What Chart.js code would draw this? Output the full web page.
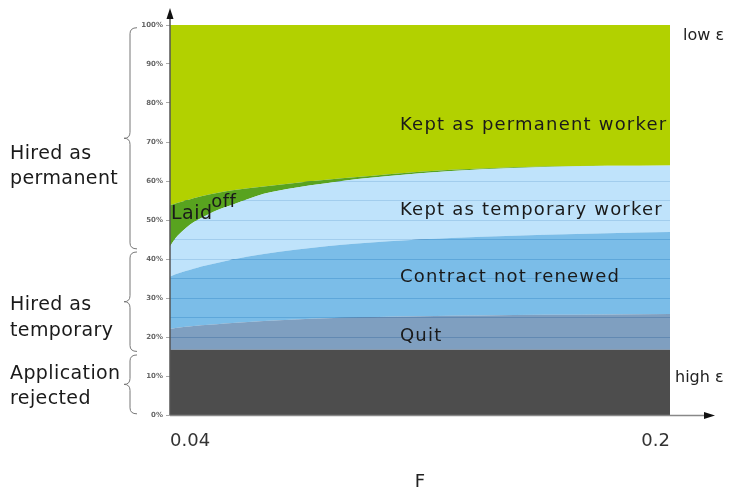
<!DOCTYPE html>
<html>
<head>
<meta charset="utf-8">
<script src="https://cdn.jsdelivr.net/npm/chart.js@4/dist/chart.umd.min.js"></script>
<style>
html,body{margin:0;padding:0;background:#fff;}
canvas{display:block;}
</style>
</head>
<body>
<canvas id="c" width="731" height="494"></canvas>
<script>
// ---- data (shares in %, stacked bottom to top) ----
const fValues      = [0.04, 0.041, 0.0425, 0.045, 0.0475, 0.05, 0.055, 0.06, 0.07, 0.08, 0.09, 0.10, 0.12, 0.14, 0.16, 0.18, 0.20];
const rejected     = [16.7, 16.7, 16.7, 16.7, 16.7, 16.7, 16.7, 16.7, 16.7, 16.7, 16.7, 16.7, 16.7, 16.7, 16.7, 16.7, 16.7];
const quit         = [5.4, 5.5, 5.65, 5.9, 6.1, 6.3, 6.6, 6.9, 7.4, 7.8, 8.1, 8.3, 8.6, 8.8, 9.0, 9.1, 9.2];
const notRenewed   = [13.4, 13.65, 13.95, 14.3, 14.7, 15.1, 15.7, 16.3, 17.2, 17.9, 18.5, 19.0, 19.7, 20.2, 20.5, 20.8, 21.0];
const keptTemp     = [7.7, 8.65, 9.7, 11.0, 11.9, 12.4, 13.5, 14.0, 15.4, 15.9, 16.1, 16.5, 17.0, 17.3, 17.4, 17.3, 17.1];
const laidOff      = [10.6, 9.55, 8.4, 7.1, 6.2, 5.6, 4.4, 3.7, 1.9, 1.2, 0.9, 0.5, 0.4, 0.2, 0.1, 0.0, 0.0];
const keptPerm     = [46.2, 45.95, 45.6, 45.0, 44.4, 43.9, 43.1, 42.4, 41.4, 40.5, 39.7, 39.0, 37.6, 36.8, 36.3, 36.1, 36.0];
const seriesNames  = ['Application rejected', 'Quit', 'Contract not renewed', 'Kept as temporary worker', 'Laid off', 'Kept as permanent worker'];
const xTickValues  = [0.04, 0.2];
const yTickStep    = 10;
const yGridStep    = 5;

const seriesData = [rejected, quit, notRenewed, keptTemp, laidOff, keptPerm];
const seriesColors = [
  'rgb(77,77,77)',
  'rgba(104,142,181,0.85)',
  'rgba(100,177,228,0.85)',
  'rgba(180,222,250,0.85)',
  'rgb(88,163,31)',
  'rgb(178,209,0)'
];

const datasets = seriesData.map((arr, i) => ({
  label: seriesNames[i],
  data: arr.map((v, j) => ({x: fValues[j], y: v})),
  backgroundColor: seriesColors[i],
  borderWidth: 0,
  pointRadius: 0,
  fill: i === 0 ? 'origin' : '-1',
  cubicInterpolationMode: 'monotone',
  yAxisID: 'y'
}));

function drawBrace(ctx, xEnd, xBody, xTip, yTop, yBot) {
  const yMid = (yTop + yBot) / 2;
  const r = 6;
  ctx.beginPath();
  ctx.moveTo(xEnd, yTop);
  ctx.quadraticCurveTo(xBody, yTop, xBody, yTop + r);
  ctx.lineTo(xBody, yMid - r);
  ctx.quadraticCurveTo(xBody, yMid, xTip, yMid);
  ctx.quadraticCurveTo(xBody, yMid, xBody, yMid + r);
  ctx.lineTo(xBody, yBot - r);
  ctx.quadraticCurveTo(xBody, yBot, xEnd, yBot);
  ctx.stroke();
}

const annot = {
  id: 'annot',
  afterDatasetsDraw(chart) {
    const {ctx, chartArea: ca, scales} = chart;
    const x = scales.x, y = scales.y;
    ctx.save();
    // axes with arrows
    ctx.lineWidth = 1.5;
    ctx.strokeStyle = '#555';
    ctx.fillStyle = '#111';
    ctx.beginPath(); ctx.moveTo(ca.left, ca.bottom); ctx.lineTo(ca.left, ca.top - 10); ctx.stroke();
    ctx.beginPath(); ctx.moveTo(ca.left, ca.top - 17); ctx.lineTo(ca.left - 3.5, ca.top - 6); ctx.lineTo(ca.left + 3.5, ca.top - 6); ctx.closePath(); ctx.fill();
    ctx.strokeStyle = '#888';
    ctx.beginPath(); ctx.moveTo(ca.left, ca.bottom + 0.5); ctx.lineTo(ca.right + 36, ca.bottom + 0.5); ctx.stroke();
    ctx.beginPath(); ctx.moveTo(ca.right + 45, ca.bottom + 0.5); ctx.lineTo(ca.right + 34, ca.bottom - 3); ctx.lineTo(ca.right + 34, ca.bottom + 4); ctx.closePath(); ctx.fill();

    // in-chart labels
    ctx.fillStyle = '#1a1a1a';
    ctx.textBaseline = 'middle';
    ctx.textAlign = 'left';
    ctx.font = '18px "DejaVu Sans"';
    ctx.letterSpacing = '1.2px';
    const lx = x.getPixelForValue(0.1136);
    ctx.fillText('Kept as permanent worker', lx, y.getPixelForValue(74.4));
    ctx.fillText('Kept as temporary worker', lx, y.getPixelForValue(52.6));
    ctx.fillText('Contract not renewed', lx, y.getPixelForValue(35.4));
    ctx.fillText('Quit', lx, y.getPixelForValue(20.3));
    ctx.font = '19px "DejaVu Sans"';
    ctx.letterSpacing = '0.5px';
    ctx.fillText('Laid', x.getPixelForValue(0.0403), y.getPixelForValue(51.6));
    ctx.font = '18px "DejaVu Sans"';
    ctx.fillText('off', x.getPixelForValue(0.0532), y.getPixelForValue(54.6));

    // right labels
    ctx.font = '16px "DejaVu Sans"';
    ctx.letterSpacing = '0px';
    ctx.fillStyle = '#222';
    ctx.fillText('low ε', ca.right + 13, y.getPixelForValue(97.2));
    ctx.fillText('high ε', ca.right + 5, y.getPixelForValue(9.5));

    // left group labels
    ctx.font = '19px "DejaVu Sans"';
    ctx.letterSpacing = '0.4px';
    ctx.fillStyle = '#1a1a1a';
    ctx.fillText('Hired as', 10, y.getPixelForValue(67.0));
    ctx.fillText('permanent', 10, y.getPixelForValue(60.4));
    ctx.fillText('Hired as', 10, y.getPixelForValue(28.2));
    ctx.fillText('temporary', 10, y.getPixelForValue(21.6));
    ctx.fillText('Application', 10, y.getPixelForValue(10.4));
    ctx.fillText('rejected', 10, y.getPixelForValue(4.2));

    // braces
    ctx.strokeStyle = '#777';
    ctx.lineWidth = 1;
    drawBrace(ctx, 137, 130, 124, y.getPixelForValue(99.3), y.getPixelForValue(42.6));
    drawBrace(ctx, 137, 130, 124, y.getPixelForValue(41.8), y.getPixelForValue(16.3));
    drawBrace(ctx, 137, 130, 124, y.getPixelForValue(15.4), y.getPixelForValue(0.3));
    ctx.restore();
  }
};

new Chart(document.getElementById('c'), {
  type: 'line',
  data: { datasets },
  options: {
    responsive: false,
    animation: false,
    layout: { padding: { left: 0, right: 61, top: 25, bottom: 0 } },
    plugins: { legend: { display: false }, tooltip: { enabled: false } },
    elements: { line: { tension: 0.4 } },
    scales: {
      x: {
        type: 'linear',
        min: 0.04,
        max: 0.2,
        afterBuildTicks: s => { s.ticks = xTickValues.map(v => ({ value: v })); },
        afterFit: s => { s.height = 79; },
        grid: { display: false, drawTicks: false },
        border: { display: false },
        ticks: {
          align: 'inner',
          padding: 16,
          color: '#333',
          font: { family: 'DejaVu Sans', size: 18 },
          callback: v => String(v)
        },
        title: {
          display: true,
          text: 'F',
          color: '#222',
          font: { family: 'DejaVu Sans', size: 18 },
          padding: { top: 0, bottom: 1 }
        }
      },
      y: {
        type: 'linear',
        stacked: true,
        min: 0,
        max: 100,
        position: 'left',
        afterFit: s => { s.width = 170; },
        grid: { drawOnChartArea: false, drawTicks: true, tickLength: 4, tickColor: '#aaa' },
        border: { display: false },
        ticks: {
          stepSize: yTickStep,
          padding: 3,
          color: '#666',
          font: { family: 'DejaVu Sans', size: 7, weight: 'bold' },
          callback: v => v + '%'
        }
      },
      yGrid: {
        type: 'linear',
        min: 0,
        max: 100,
        position: 'left',
        afterFit: s => { s.width = 0; },
        grid: { drawOnChartArea: true, drawTicks: false, color: 'rgb(60,110,160)', lineWidth: 1 },
        border: { display: false },
        ticks: { display: false, stepSize: yGridStep }
      }
    }
  },
  plugins: [annot]
});
</script>
</body>
</html>
